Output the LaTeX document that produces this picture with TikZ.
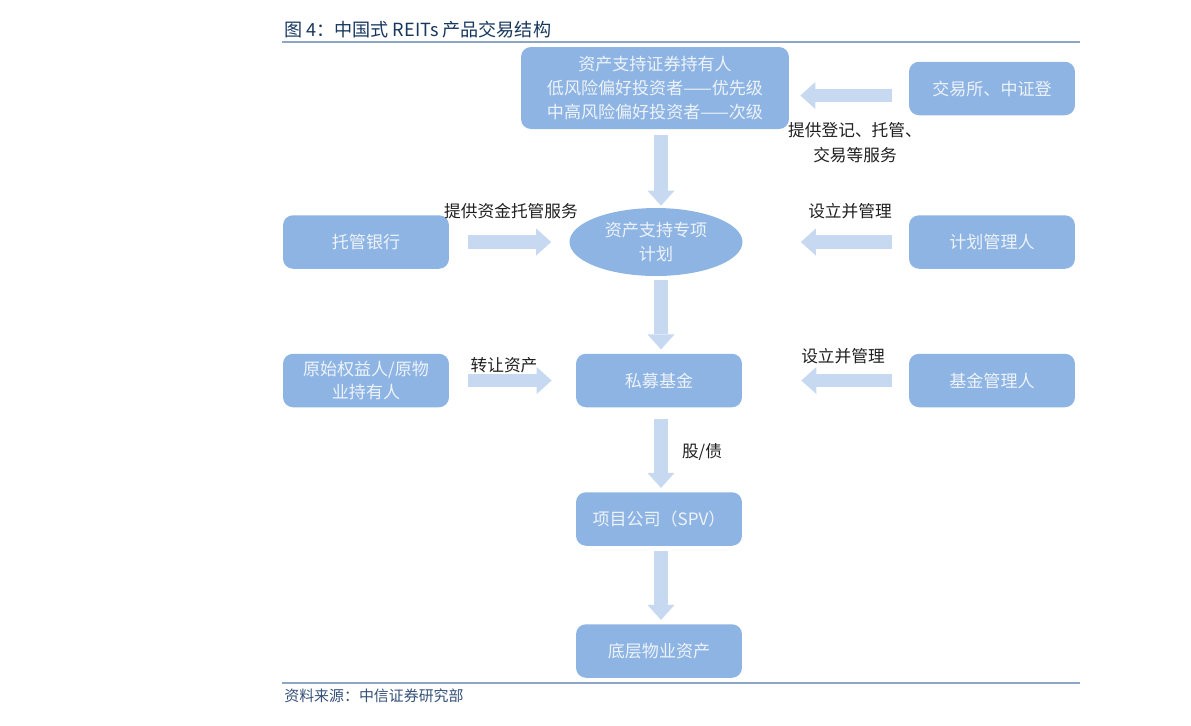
\documentclass[tikz,border=0pt]{standalone}
\usepackage{fontspec}
\setmainfont{Noto Sans CJK SC}
\usetikzlibrary{arrows.meta, shapes.geometric, calc, positioning}
\definecolor{boxblue}{RGB}{142,180,227}
\definecolor{arrowblue}{RGB}{198,217,241}
\definecolor{boxtext}{RGB}{238,243,250}
\definecolor{titlenavy}{RGB}{23,55,94}
\definecolor{rulegray}{RGB}{141,166,198}
\definecolor{srcblue}{RGB}{52,80,120}

\begin{document}
\begin{tikzpicture}[x=0.02cm, y=-0.02cm,
		box/.style={rectangle, rounded corners=0.2cm, fill=boxblue, text=boxtext, align=center, minimum width=3.32cm, minimum height=1.07cm, inner sep=1pt, font=\fontsize{9.7pt}{13.4pt}\selectfont},
		planoval/.style={ellipse, fill=boxblue, text=boxtext, align=center, minimum width=3.46cm, minimum height=1.36cm, inner sep=0pt, font=\fontsize{9.7pt}{13.6pt}\selectfont},
		fat/.style={draw=arrowblue, line width=0.27cm, -{Triangle[width=0.54cm, length=0.3cm, line width=0pt]}},
		lbl/.style={text=black!88, align=center, inner sep=0pt, font=\fontsize{9.5pt}{14.2pt}\selectfont}]
	\useasboundingbox (0,0) rectangle (1191,725);
	
	% title and source
	\node[anchor=west, inner sep=0pt, text=titlenavy, font=\fontsize{10.3pt}{12pt}\selectfont] (title) at (284,30) {图 4：中国式 REITs 产品交易结构};
	\draw[rulegray, line width=0.9pt] (282,42) -- (1080,42);
	\draw[rulegray, line width=0.9pt] (282,683) -- (1080,683);
	\node[anchor=west, inner sep=0pt, text=srcblue, font=\fontsize{8.5pt}{10pt}\selectfont] (source) at (284,696) {资料来源：中信证券研究部};
	
	\coordinate (spine) at (661,0);
	
	\node[box, minimum width=5.36cm, minimum height=1.64cm] (holder) at (655,88) {资产支持证券持有人\\低风险偏好投资者——优先级\\中高风险偏好投资者——次级};
	\node[box] (exch) at (992,88.5) {交易所、中证登};
	\node[planoval] (plan) at (656,242) {资产支持专项\\计划};
	\node[box] (bank) at (366,242) {托管银行};
	\node[box] (planmgr) at (992,242) {计划管理人};
	\node[box] (fund) at (659,380.5) {私募基金};
	\node[box] (orig) at (366,380.5) {原始权益人/原物\\业持有人};
	\node[box] (fundmgr) at (992,380.5) {基金管理人};
	\node[box] (spv) at (659,519) {项目公司（SPV）};
	\node[box] (asset) at (659,651) {底层物业资产};
	
	\draw[fat, shorten <=0.34cm, shorten >=0.22cm] ([yshift=-0.14cm]exch.west) -- ([yshift=-0.14cm]exch.west -| holder.east);
	\draw[fat, shorten <=0.38cm, shorten >=0.36cm] (bank.east) -- (bank.east -| plan.west);
	\draw[fat, shorten <=0.34cm, shorten >=1.16cm] (planmgr.west) -- (planmgr.west -| plan.east);
	\draw[fat, shorten <=0.38cm, shorten >=0.48cm] (orig.east) -- (fund.west);
	\draw[fat, shorten <=0.34cm, shorten >=1.18cm] (fundmgr.west) -- (fund.east);
	
	\draw[fat, shorten <=0.12cm, shorten >=0.04cm] (holder.south -| spine) -- (plan.north -| spine);
	\draw[fat, shorten <=0.08cm, shorten >=0.08cm] (plan.south -| spine) -- (fund.north -| spine);
	\draw[fat, shorten <=0.22cm, shorten >=0.08cm] (fund.south -| spine) -- (spv.north -| spine);
	\draw[fat, shorten <=0.1cm, shorten >=0.08cm] (spv.south -| spine) -- (asset.north -| spine);
	
	\node[lbl] (lblexch) at (855,143) {提供登记、托管、\\交易等服务};
	\node[lbl] (lblbank) at (511,211) {提供资金托管服务};
	\node[lbl] (lblplan) at (850,211) {设立并管理};
	\node[lbl] (lblorig) at (504,365) {转让资产};
	\node[lbl] (lblfund) at (843,356) {设立并管理};
	\node[lbl] (lblspv) at (702,452) {股/债};
\end{tikzpicture}
\end{document}
